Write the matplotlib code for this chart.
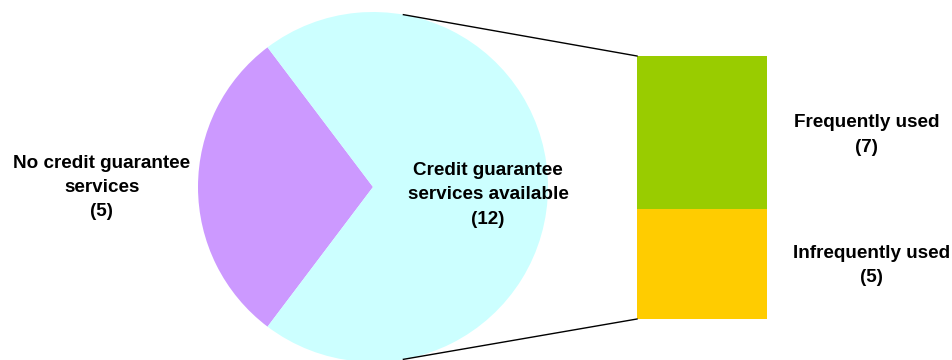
import numpy as np
import matplotlib
matplotlib.use('Agg')
import matplotlib.pyplot as plt

# pie slices
pie_labels = ['No credit guarantee\nservices\n(5)',
              'Credit guarantee\nservices available\n(12)']
pie_values = [5, 12]
pie_colors = ['#CC99FF', '#CCFFFF']

# breakdown of the available slice
bar_labels = ['Infrequently used\n(5)', 'Frequently used\n(7)']
bar_values = [5, 7]
bar_colors = ['#FFCC00', '#99CC00']

W, H = 953, 360
plt.rcParams['font.family'] = ['Liberation Sans', 'DejaVu Sans']

fig = plt.figure(figsize=(W / 100, H / 100), dpi=100)
ax = fig.add_axes([0, 0, 1, 1])

# pie, purple slice centred on the left side
cx, cy, r = 373, H - 187, 175
start = 180 - 360 * pie_values[0] / sum(pie_values) / 2
ax.pie(pie_values, colors=pie_colors, center=(cx, cy), radius=r,
       startangle=start, counterclock=True, frame=True,
       wedgeprops=dict(linewidth=0))
ax.set_xlim(0, W)
ax.set_ylim(0, H)
ax.set_aspect('equal')
ax.axis('off')

txt = dict(ha='center', va='center', fontsize=13.6, fontweight='bold',
           linespacing=1.55, color='black')
ax.text(102, H - 187.5, pie_labels[0], **txt)
ax.text(488, H - 195, pie_labels[1], **txt)

# stacked bar
bx, bw = 637, 130
bar_bottom = H - 319
scale = 263 / sum(bar_values)
bottom = bar_bottom
for v, c in zip(bar_values, bar_colors):
    ax.bar(bx, v * scale, width=bw, bottom=bottom, align='edge', color=c,
           linewidth=0)
    bottom += v * scale
bar_top = bottom

ax.text(872, H - 265.5, bar_labels[0], **txt)
ax.text(867, H - 135, bar_labels[1], **txt)

# connector lines from pie edge to bar corners
a = np.deg2rad(80)
ax.plot([cx + r * np.cos(a), bx], [cy + r * np.sin(a), bar_top],
        color='black', lw=1)
ax.plot([cx + r * np.cos(-a), bx], [cy + r * np.sin(-a), bar_bottom],
        color='black', lw=1)

fig.savefig('out.png', dpi=100)
